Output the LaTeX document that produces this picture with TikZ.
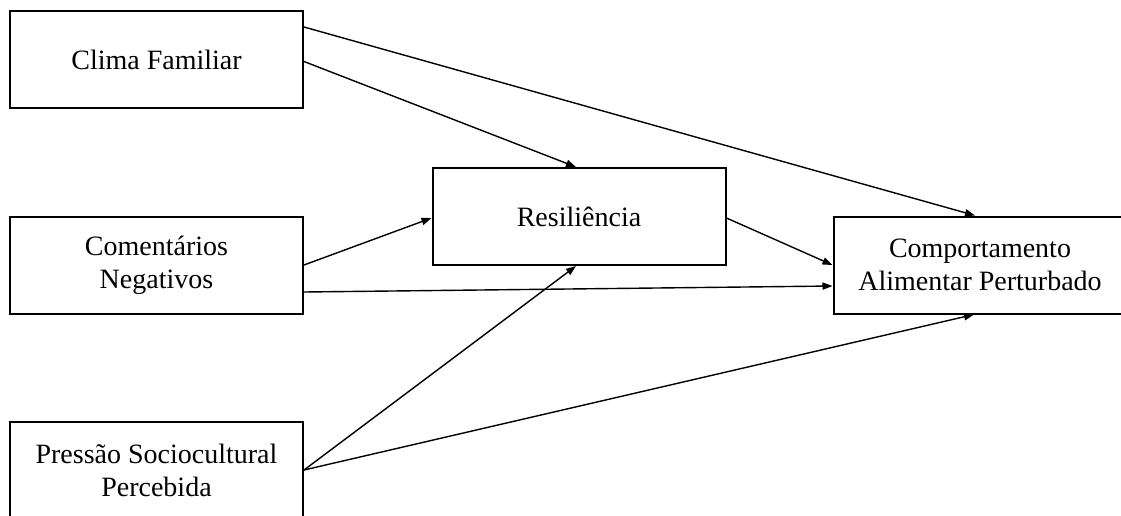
\documentclass[tikz,border=0pt]{standalone}
\usepackage{fontspec}
\setmainfont{Liberation Serif}
\usepackage{tikz}
\usetikzlibrary{arrows.meta,positioning}
\tikzset{varbox/.style={rectangle,draw=black,line width=1pt,minimum width=146.5pt,minimum height=48.5pt,inner sep=0pt,align=center,font=\fontsize{14}{16.5}\selectfont}}
\tikzset{path/.style={-{Triangle[length=5pt,width=3.6pt]},line width=0.7pt}}

\begin{document}
\begin{tikzpicture}[x=0.5pt,y=-0.5pt]
\useasboundingbox (0,0) rectangle (1121,515);
% \draw[help lines] (0,0) grid (1121,515);
\node (clima) [varbox] at (156.5,59.5) {Clima Familiar};
\node (coment) [varbox] at (156.5,265) {Comentários\\Negativos};
\node (pressao) [varbox] at (156.5,470) {Pressão Sociocultural\\Percebida};
\node (resil) [varbox] at (579,216.5) {Resiliência};
\node (comport) [varbox] at (980,265) {Comportamento\\Alimentar Perturbado};
%
\draw[path] ([yshift=16.25pt]clima.east) -- ([xshift=-2.5pt]comport.north);
\draw[path] ([yshift=-1pt]clima.east) -- ([xshift=-1.5pt]resil.north);
\draw[path] (coment.east) -- ([yshift=-0.75pt]resil.west);
\draw[path] ([yshift=-13.5pt]coment.east) -- ([yshift=-10.5pt]comport.west);
\draw[path] ([yshift=-0.75pt]resil.east) -- (comport.west);
%
\draw[path] (pressao.east) -- ([xshift=-1.5pt]resil.south);
\draw[path] (pressao.east) -- ([xshift=-3pt]comport.south);
\end{tikzpicture}
\end{document}
